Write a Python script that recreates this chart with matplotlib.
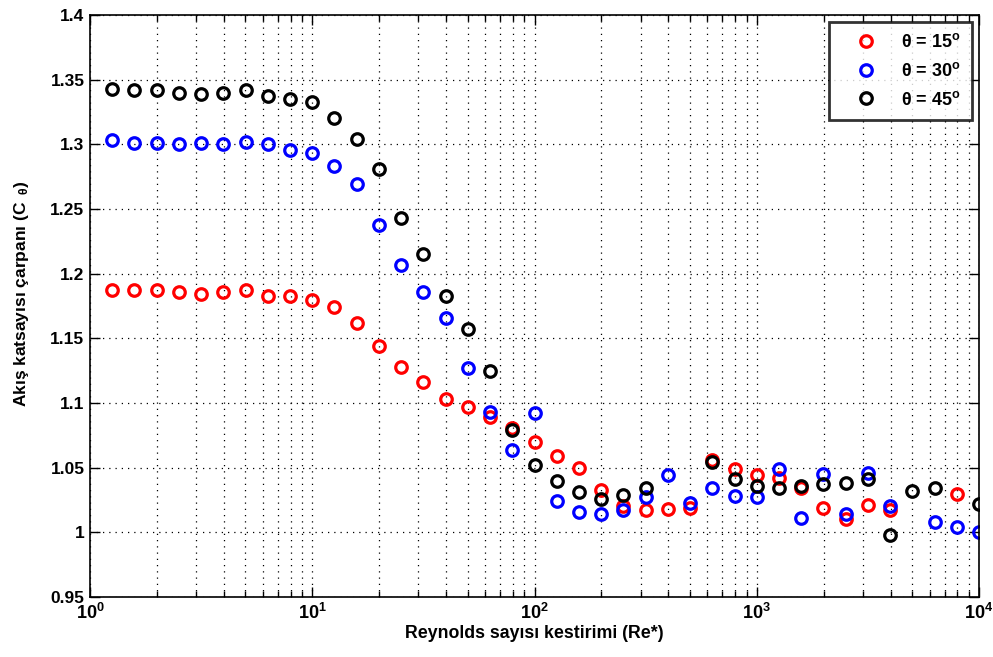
import numpy as np
import matplotlib
matplotlib.use('Agg')
import matplotlib.pyplot as plt
from matplotlib.ticker import LogLocator, NullFormatter

plt.rcParams['font.family'] = ['Liberation Sans', 'DejaVu Sans']
plt.rcParams['font.weight'] = 'bold'
plt.rcParams['mathtext.fontset'] = 'custom'
plt.rcParams['mathtext.rm'] = 'Liberation Sans:bold'
plt.rcParams['mathtext.it'] = 'Liberation Sans:bold'
plt.rcParams['mathtext.bf'] = 'Liberation Sans:bold'
plt.rcParams['mathtext.default'] = 'regular'

# Re* estimate, 10 points per decade (10^(k/10), k = 1..40)
re_k = list(range(1, 41))

# flow coefficient multiplier per angle, None where no value was computed
c_15 = [1.187, 1.187, 1.187, 1.186, 1.184, 1.186, 1.187, 1.183, 1.183, 1.180,
        1.174, 1.162, 1.144, 1.128, 1.116, 1.103, 1.097, 1.089, 1.081, 1.070,
        1.059, 1.050, 1.033, 1.020, 1.017, 1.018, 1.019, 1.056, 1.049, 1.044,
        1.042, 1.034, 1.019, 1.010, 1.021, 1.017, None, None, 1.030, None]
c_30 = [1.303, 1.301, 1.301, 1.300, 1.301, 1.300, 1.302, 1.300, 1.296, 1.293,
        1.283, 1.269, 1.238, 1.207, 1.186, 1.166, 1.127, 1.093, 1.064, 1.092,
        1.024, 1.016, 1.014, 1.017, 1.027, 1.044, 1.023, 1.034, 1.028, 1.027,
        1.049, 1.011, 1.045, 1.014, 1.046, 1.020, None, 1.008, 1.004, 1.000]
c_45 = [1.343, 1.342, 1.342, 1.340, 1.339, 1.340, 1.342, 1.337, 1.335, 1.333,
        1.320, 1.304, 1.281, 1.243, 1.215, 1.183, 1.157, 1.125, 1.079, 1.052,
        1.040, 1.031, 1.026, 1.029, 1.034, None, None, 1.054, 1.041, 1.036,
        1.034, 1.036, 1.037, 1.038, 1.041, 0.998, 1.032, 1.034, None, 1.022]

series = [(c_15, 'r', r'θ = 15$^{o}$'),
          (c_30, 'b', r'θ = 30$^{o}$'),
          (c_45, 'k', r'θ = 45$^{o}$')]

re = 10 ** (np.array(re_k) / 10.0)

fig = plt.figure(figsize=(9.93, 6.57), dpi=100)
ax = fig.add_axes([90 / 993, 1 - 597 / 657, 889 / 993, 582 / 657])

for vals, col, lab in series:
    y = np.array([np.nan if v is None else v for v in vals])
    ax.semilogx(re, y, 'o', mfc='none', mec=col, mew=2.3, ms=8.3, label=lab)

ax.set_xlim(1, 1e4)
ax.set_ylim(0.95, 1.4)
ax.set_yticks(np.arange(0.95, 1.4001, 0.05))
ax.set_yticklabels(['0.95', '1', '1.05', '1.1', '1.15', '1.2', '1.25', '1.3', '1.35', '1.4'])
ax.xaxis.set_major_locator(LogLocator(base=10, numticks=10))
ax.xaxis.set_minor_locator(LogLocator(base=10, subs=np.arange(2, 10), numticks=100))
ax.xaxis.set_minor_formatter(NullFormatter())

ax.grid(True, which='major', axis='both', color='k', linestyle=(0, (1, 4)), linewidth=0.9)
ax.grid(True, which='minor', axis='x', color='k', linestyle=(0, (1, 4)), linewidth=0.9)
ax.tick_params(which='both', direction='in', top=True, right=True, labelsize=12.5, width=1)
ax.tick_params(axis='x', labelsize=13)
ax.tick_params(which='major', length=7, pad=4)
ax.tick_params(which='minor', length=4)
for sp in ax.spines.values():
    sp.set_linewidth(1.2)

ax.set_xlabel('Reynolds sayısı kestirimi (Re*)', fontsize=12.8, fontweight='bold', labelpad=2)
ax.set_ylabel(r'Akış katsayısı çarpanı (C$_{\ \ θ}$)', fontsize=12.5, fontweight='bold')
ax.yaxis.set_label_coords(-0.066, 0.52)

leg = ax.legend(loc='upper right', fontsize=13, frameon=True, fancybox=False,
                edgecolor='k', borderpad=0.6, handletextpad=0.5, labelspacing=0.6,
                borderaxespad=0.4, handlelength=2.9)
leg.get_frame().set_linewidth(2)

fig.savefig('out.png', dpi=100)
